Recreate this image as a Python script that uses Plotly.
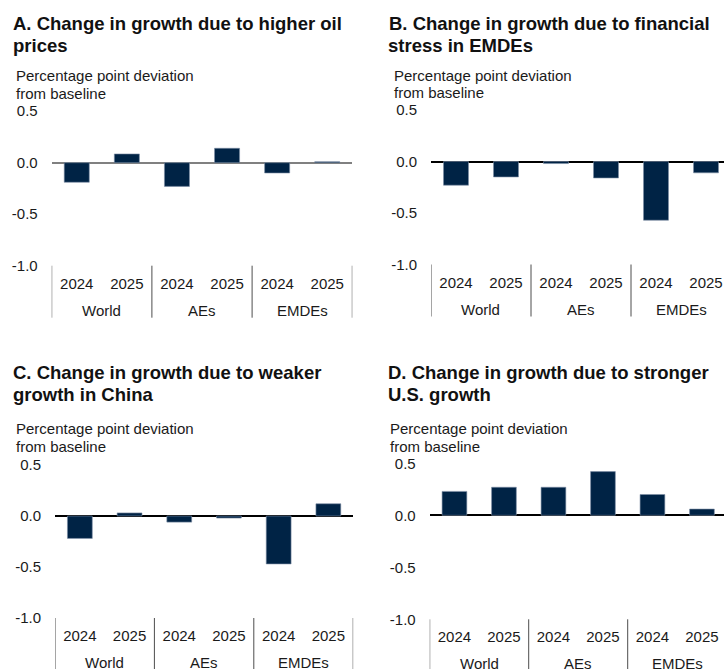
import plotly.graph_objects as go

W, H = 724, 669

# Categories: region groups and years
regions = ["World", "World", "AEs", "AEs", "EMDEs", "EMDEs"]
years = ["2024", "2025", "2024", "2025", "2024", "2025"]

# Percentage point deviation from baseline
oil_prices = [-0.19, 0.085, -0.23, 0.14, -0.10, 0.01]
financial_stress = [-0.23, -0.15, -0.02, -0.16, -0.57, -0.11]
china_weaker = [-0.22, 0.03, -0.06, -0.02, -0.47, 0.12]
us_stronger = [0.23, 0.27, 0.27, 0.42, 0.20, 0.06]

titles = [
    ["A. Change in growth due to higher oil", "prices"],
    ["B. Change in growth due to financial", "stress in EMDEs"],
    ["C. Change in growth due to weaker", "growth in China"],
    ["D. Change in growth due to stronger", "U.S. growth"],
]
y_title = ["Percentage point deviation", "from baseline"]
y_ticks = [0.5, 0.0, -0.5, -1.0]
y_ticktext = ["0.5", "0.0", "-0.5", "-1.0"]

BAR = "#002345"
FONT = "Liberation Sans, Arial, Helvetica, sans-serif"
TXT = "#1a1a1a"

# Bar positions along the x axis, and the group spans derived from the region list
xpos = list(range(len(years)))
groups = []
for i, r in enumerate(regions):
    if not groups or groups[-1][0] != r:
        groups.append([r, i, i])
    else:
        groups[-1][2] = i

# Panel geometry in pixels: plot left, pixels per category, zero-line y, pixels per unit
panels = [
    dict(vals=oil_prices, left=51.7, cat=50.1, zero=162.7, scale=103, zc="#808080",
         title_x=10.5, title_y=(23, 45.5), lab_x=14, lab_y=(75.5, 93.5)),
    dict(vals=financial_stress, left=431, cat=50.0, zero=161.5, scale=103, zc="#000000",
         title_x=386.5, title_y=(23, 45.5), lab_x=391.5, lab_y=(75, 92.5)),
    dict(vals=china_weaker, left=55, cat=49.7, zero=516, scale=102, zc="#000000",
         title_x=10.5, title_y=(372, 394), lab_x=14, lab_y=(428, 446)),
    dict(vals=us_stronger, left=429.7, cat=49.5, zero=515.3, scale=104, zc="#000000",
         title_x=385.5, title_y=(372, 394), lab_x=388, lab_y=(428, 446)),
]

fig = go.Figure()
annotations = []
shapes = []

for i, p in enumerate(panels, start=1):
    sfx = "" if i == 1 else str(i)
    xa, ya = "x" + sfx, "y" + sfx
    right = min(p["left"] + 6 * p["cat"], W)
    x_hi = -0.5 + (right - p["left"]) / p["cat"]
    top = p["zero"] - 0.5 * p["scale"]
    bottom = p["zero"] + 1.0 * p["scale"]

    fig.add_trace(go.Bar(
        x=xpos, y=p["vals"], xaxis=xa, yaxis=ya,
        marker=dict(color=BAR, line=dict(color="#7d8fa6", width=0.6)),
        width=0.5, showlegend=False, hoverinfo="skip",
    ))

    fig.layout["xaxis" + sfx] = dict(
        domain=[p["left"] / W, right / W], anchor=ya,
        range=[-0.5, x_hi], tickvals=xpos, ticktext=years,
        showgrid=False, zeroline=False, showline=False, ticks="",
        ticklabelstandoff=7, automargin=False,
        tickfont=dict(family=FONT, size=15, color=TXT),
        fixedrange=True,
    )
    fig.layout["yaxis" + sfx] = dict(
        domain=[1 - bottom / H, 1 - top / H], anchor=xa,
        range=[-1.0, 0.5], tickvals=y_ticks, ticktext=y_ticktext,
        showgrid=False, showline=False, ticks="",
        zeroline=True, zerolinecolor=p["zc"], zerolinewidth=1.5,
        ticklabelstandoff=13, automargin=False,
        tickfont=dict(family=FONT, size=15, color=TXT),
        fixedrange=True,
    )

    # Group labels and dividers below the year labels
    for name, a, b in groups:
        annotations.append(dict(
            text=name, x=(a + b) / 2, xref=xa, y=1 - (bottom + 44.5) / H, yref="paper",
            xanchor="center", yanchor="middle", showarrow=False,
            font=dict(family=FONT, size=15, color=TXT),
        ))
    bounds = [groups[0][1] - 0.5] + [g[2] + 0.5 for g in groups]
    for bx in bounds:
        shapes.append(dict(
            type="line", xref=xa, yref="paper", x0=bx, x1=bx,
            y0=1 - bottom / H, y1=1 - (bottom + 52) / H,
            line=dict(color="#4d4d4d", width=1),
        ))

    for line, yy in zip(titles[i - 1], p["title_y"]):
        annotations.append(dict(
            text=line, x=p["title_x"] / W, y=1 - yy / H, xref="paper", yref="paper",
            xanchor="left", yanchor="middle", showarrow=False,
            font=dict(family=FONT, size=18.5, color="#111111", weight="bold"),
        ))
    for line, yy in zip(y_title, p["lab_y"]):
        annotations.append(dict(
            text=line, x=p["lab_x"] / W, y=1 - yy / H, xref="paper", yref="paper",
            xanchor="left", yanchor="middle", showarrow=False,
            font=dict(family=FONT, size=15, color=TXT),
        ))

fig.update_layout(
    width=W, height=H,
    margin=dict(l=0, r=0, t=0, b=0, pad=0, autoexpand=False),
    paper_bgcolor="white", plot_bgcolor="white",
    annotations=annotations, shapes=shapes,
)

fig.write_html("out.html", config={"displayModeBar": False})
